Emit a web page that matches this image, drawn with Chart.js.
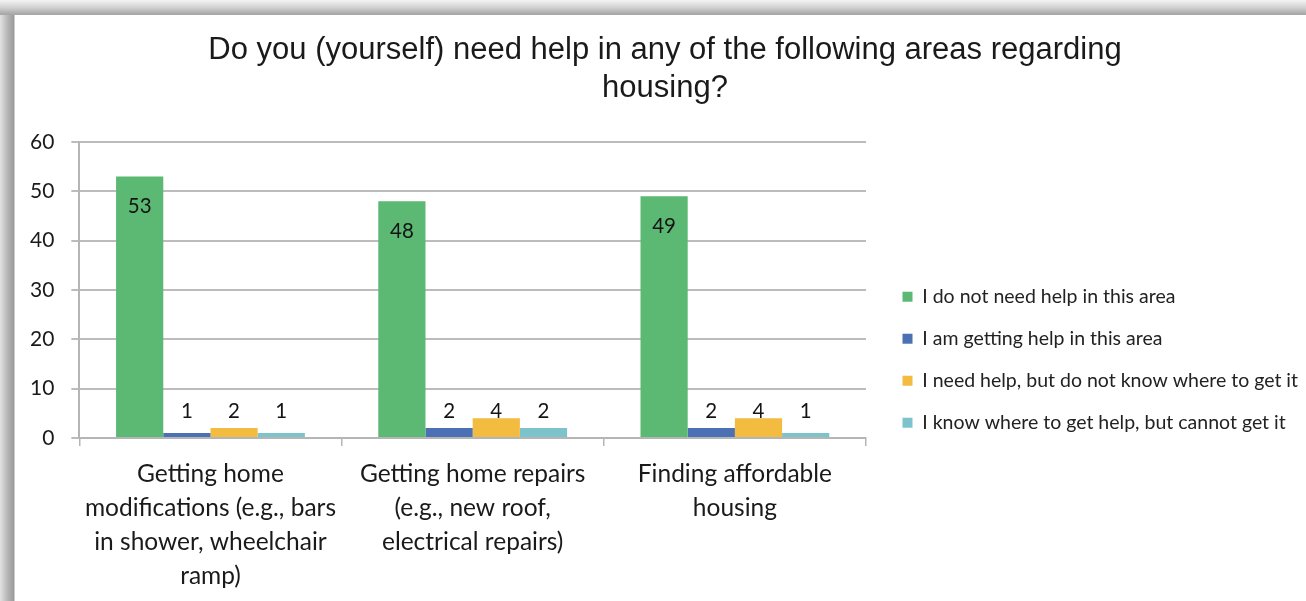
<!DOCTYPE html>
<html>
<head>
<meta charset="utf-8">
<script src="https://cdn.jsdelivr.net/npm/chart.js@4.4.0/dist/chart.umd.min.js"></script>
<style>
  html, body { margin: 0; padding: 0; width: 1306px; height: 601px; overflow: hidden; background: #fff; }
  #frame { position: absolute; left: 0; top: 0; width: 1306px; height: 601px;
    background: linear-gradient(to right, #e2e2e2 0px, #b4b4b4 8px, #9a9a9a 14px, #ffffff 15px); }
  #topband { position: absolute; left: 0; top: 0; width: 1306px; height: 15px;
    background: linear-gradient(to bottom, #f4f4f4 0px, #cfcfcf 8px, #a8a8a8 14px); }
  #wrap { position: absolute; left: 15px; top: 15px; width: 1291px; height: 586px; background: #fff; }
</style>
</head>
<body>
<div id="frame"></div>
<div id="topband"></div>
<div id="wrap"><canvas id="c" width="1291" height="586"></canvas></div>
<script>
const categories = [
  ["Getting home", "modifications (e.g., bars", "in shower, wheelchair", "ramp)"],
  ["Getting home repairs", "(e.g., new roof,", "electrical repairs)"],
  ["Finding affordable", "housing"]
];
const seriesNames = [
  "I do not need help in this area",
  "I am getting help in this area",
  "I need help, but do not know where to get it",
  "I know where to get help, but cannot get it"
];
const noHelpNeeded = [53, 48, 49];
const gettingHelp = [1, 2, 2];
const needHelpDontKnow = [2, 4, 4];
const knowButCannot = [1, 2, 1];
const seriesColors = ["#5bb973", "#4b71b4", "#f3bb40", "#7cc3cc"];
const yTicks = [0, 10, 20, 30, 40, 50, 60];
const titleLines = ["Do you (yourself) need help in any of the following areas regarding", "housing?"];
const smallLabelLevel = 5.3;

const allSeries = [noHelpNeeded, gettingHelp, needHelpDontKnow, knowButCannot];

const labelPlugin = {
  id: 'barLabels',
  afterDatasetsDraw(chart) {
    const ctx = chart.ctx;
    const yScale = chart.scales.y;
    ctx.save();
    ctx.font = '20.5px Lato';
    ctx.fillStyle = '#141414';
    ctx.textAlign = 'center';
    ctx.textBaseline = 'middle';
    chart.data.datasets.forEach((ds, di) => {
      const meta = chart.getDatasetMeta(di);
      meta.data.forEach((bar, i) => {
        const v = ds.data[i];
        const y = di === 0 ? bar.y + 30 : yScale.getPixelForValue(smallLabelLevel);
        ctx.fillText(String(v), bar.x, y);
      });
    });
    ctx.restore();
  }
};

const legendLayout = {
  id: 'legendLayout',
  beforeLayout(chart) {
    const l = chart.legend;
    if (l && !l._wPatched) {
      const orig = l.fit;
      l.fit = function () { orig.call(this); this.width = 451; };
      l._wPatched = true;
    }
  },
  afterLayout(chart) {
    const l = chart.legend;
    if (!l) return;
    l.left += 14; l.right += 14;
    l.top += 17; l.bottom += 17;
  }
};

new Chart(document.getElementById('c'), {
  type: 'bar',
  data: {
    labels: categories,
    datasets: allSeries.map((d, i) => ({
      label: seriesNames[i],
      data: d,
      backgroundColor: seriesColors[i],
      borderWidth: 0,
      categoryPercentage: 0.72,
      barPercentage: 1.0
    }))
  },
  options: {
    responsive: false,
    animation: false,
    devicePixelRatio: 1,
    layout: { padding: { left: -2, right: -11, top: 0, bottom: -3 } },
    plugins: {
      title: {
        display: true,
        text: titleLines,
        color: '#1a1a1a',
        font: { family: '"Liberation Sans", Arial, sans-serif', size: 31, weight: 'normal', lineHeight: 1.226 },
        padding: { top: 16, bottom: 35 }
      },
      legend: {
        position: 'right',
        align: 'end',
        fullSize: false,
        labels: {
          boxWidth: 10,
          boxHeight: 10,
          padding: 22.5,
          color: '#222222',
          font: { family: 'Lato', size: 19.5 }
        }
      },
      tooltip: { enabled: false }
    },
    scales: {
      x: {
        grid: { display: true, drawOnChartArea: false, drawTicks: true, tickLength: 8, color: '#b5b5b5', lineWidth: 1.5, offset: true },
        border: { color: '#b5b5b5', width: 2 },
        ticks: {
          color: '#1a1a1a',
          padding: 11,
          maxRotation: 0,
          autoSkip: false,
          font: { family: 'Lato', size: 24.5, lineHeight: 1.388 }
        }
      },
      y: {
        min: 0,
        max: 60,
        afterBuildTicks(scale) { scale.ticks = yTicks.map(v => ({ value: v })); },
        grid: { color: '#bcbcbc', lineWidth: 2, tickLength: 8 },
        border: { color: '#b5b5b5', width: 2 },
        ticks: {
          color: '#1a1a1a',
          padding: 17,
          font: { family: 'Lato', size: 21 }
        }
      }
    }
  },
  plugins: [labelPlugin, legendLayout]
});
</script>
</body>
</html>
